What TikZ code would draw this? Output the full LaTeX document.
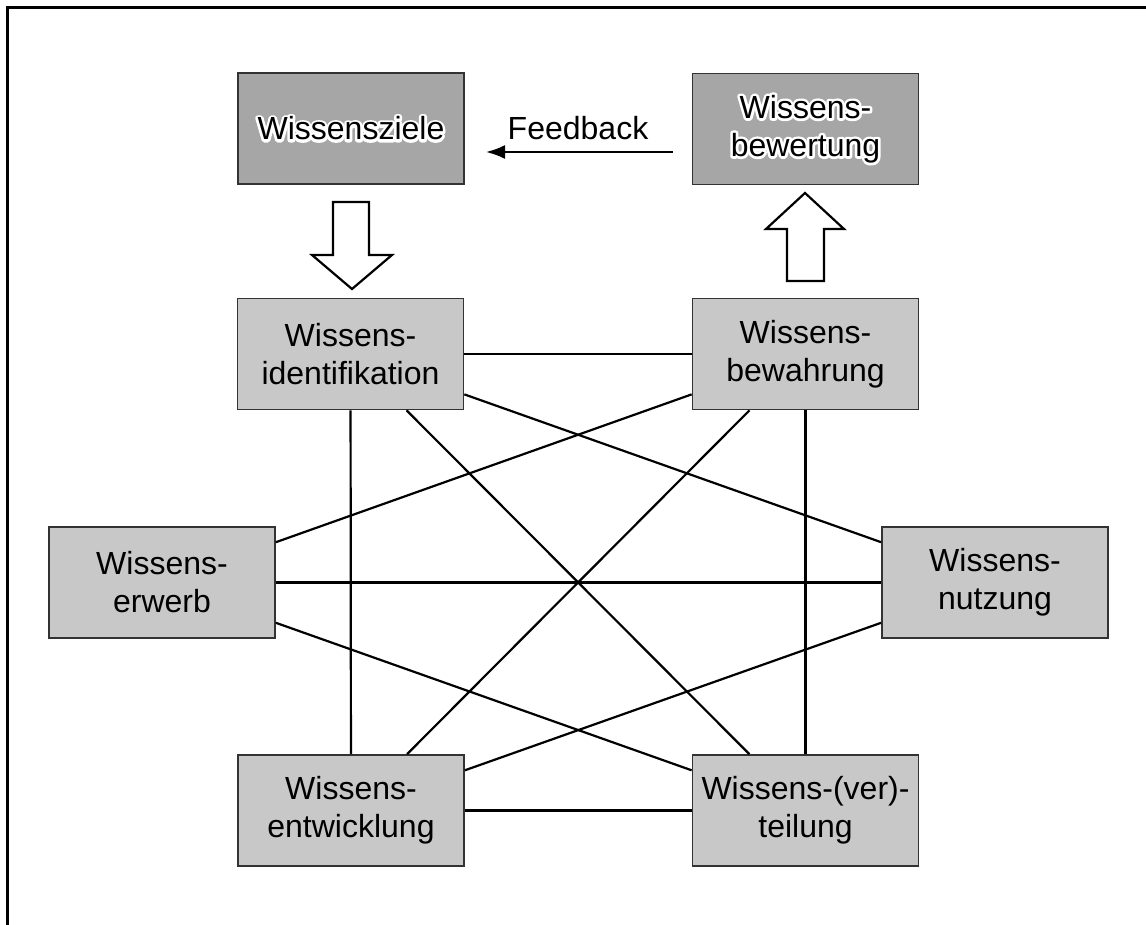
\documentclass[tikz,border=0pt]{standalone}
\usepackage{fontspec}
\setmainfont{Liberation Sans}
\usetikzlibrary{arrows.meta}
\definecolor{boxlight}{HTML}{C8C8C8}
\definecolor{boxdark}{HTML}{A6A6A6}
\definecolor{boxedge}{HTML}{333333}
% white stroked glyph outlines, drawn under the black text as a halo
\newcommand{\halostart}{\special{pdf:literal direct 1 1 1 RG 2.6 w 1 j 1 Tr}}
\newcommand{\halostop}{\special{pdf:literal direct 0 Tr}}
\begin{document}
\begin{tikzpicture}[x=0.5pt,y=-0.5pt,
  box/.style={draw=boxedge, line width=0.85pt, minimum width=113pt,
    minimum height=55.5pt, inner sep=0pt, align=center,
    font=\fontsize{16}{19}\selectfont},
  procbox/.style={box, fill=boxlight},
  goalbox/.style={box, fill=boxdark},
  halotxt/.style={align=center, inner sep=0pt, font=\fontsize{16}{19}\selectfont},
  link/.style={line width=1.1pt},
  blockarrow/.style={draw=black, fill=white, line width=1.1pt, line join=miter}]
\useasboundingbox (0,0) rectangle (1146,925);

% frame
\draw[line width=1.2pt] (7.5,940) -- (7.5,7.5) -- (1160,7.5);

% goal and evaluation boxes
\node[goalbox] (Z) at (351,128.5) {};
\node[goalbox] (W) at (805.5,129) {};
\node[halotxt] (Zh) at (Z.center) {\halostart Wissensziele\halostop};
\node[halotxt] (Wh) at (W.center) {\halostart Wissens-\\bewertung\halostop};
\node[halotxt] (Zt) at (Z.center) {Wissensziele};
\node[halotxt] (Wt) at (W.center) {Wissens-\\bewertung};

% core process boxes
\node[procbox] (I) at (350.5,354) {Wissens-\\identifikation};
\node[procbox] (B) at (805.5,354) {Wissens-\\bewahrung};
\node[procbox] (E) at (162,582.5) {Wissens-\\erwerb};
\node[procbox] (N) at (995,582.5) {Wissens-\\nutzung};
\node[procbox] (D) at (351,810.5) {Wissens-\\entwicklung};
\node[procbox] (T) at (805.5,810.5) {Wissens-(ver)-\\teilung};

% links between the core processes
\draw[link] (I) -- (B);
\draw[link] (I) -- (D);
\draw[link] (B) -- (T);
\draw[link] (D) -- (T);
\draw[link] (E) -- (N);
\draw[link] (I) -- (N);
\draw[link] (I) -- (T);
\draw[link] (B) -- (E);
\draw[link] (B) -- (D);
\draw[link] (E) -- (T);
\draw[link] (N) -- (D);

% feedback arrow
\coordinate (fbs) at (673,152);
\coordinate (fbe) at (486,152);
\draw[link, -{Latex[length=9.5pt,width=7pt]}] (fbs) -- (fbe);
\node[halotxt] (fb) at (578,128) {Feedback};

% block arrows
\draw[blockarrow] (333,202) -- (369,202) -- (369,255) -- (392,255) -- (352,289)
  -- (312,255) -- (333,255) -- cycle;
\draw[blockarrow] (787,281) -- (824,281) -- (824,229) -- (844,229) -- (805,193)
  -- (766,229) -- (787,229) -- cycle;
\end{tikzpicture}
\end{document}
